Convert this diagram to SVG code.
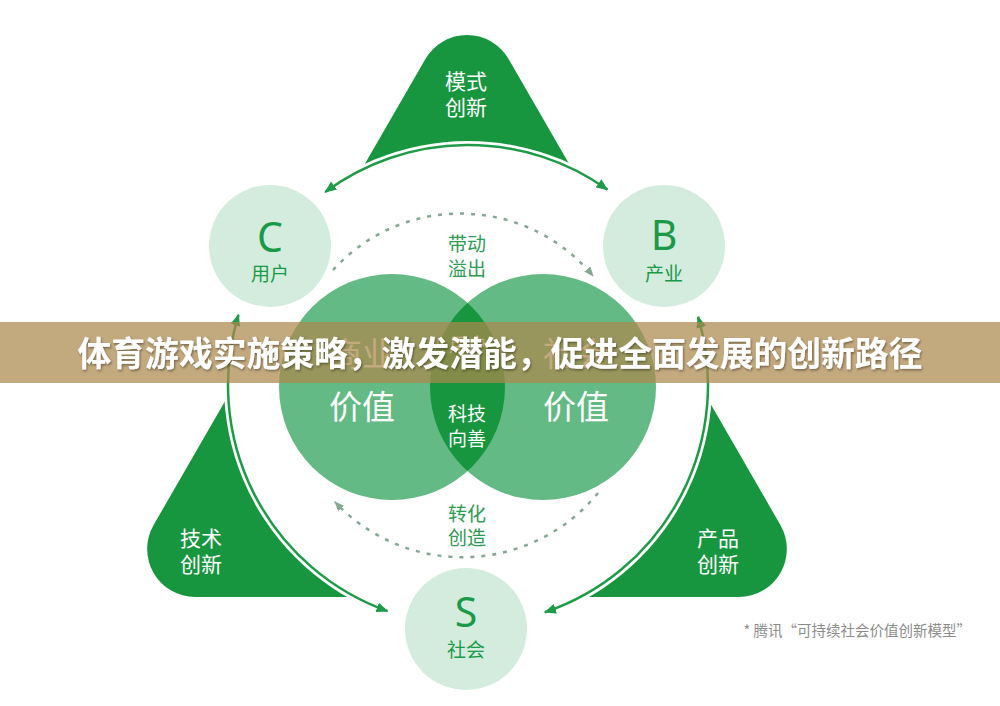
<svg xmlns="http://www.w3.org/2000/svg" width="1000" height="706" viewBox="0 0 1000 706">
<defs>
<style>
.cjk{font-family:'Noto Sans CJK SC','Noto Sans',sans-serif;}
.tri{fill:#17963f;}
.tt{fill:#fff;font-size:21px;text-anchor:middle;}
.small{fill:#d3ecdd;}
.letter{font-family:'Noto Sans','Liberation Sans',sans-serif;font-size:41px;fill:#1a9a48;text-anchor:middle;}
.sub{fill:#1a9a48;font-size:19px;text-anchor:middle;}
.ring{fill:none;stroke:#1f9a48;stroke-width:2.5;marker-start:url(#ah);marker-end:url(#ah);}
.dot{fill:none;stroke:#86a893;stroke-width:2.5;stroke-dasharray:4 7;marker-end:url(#dh);}
.big{fill:#64ba84;}
.lens{fill:#17963f;}
.vt{fill:#fff;font-size:33px;text-anchor:middle;}
.lt{fill:#fff;font-size:19px;text-anchor:middle;}
.dl{fill:#2e9b52;font-size:19px;text-anchor:middle;}
</style>
<marker id="ah" viewBox="0 0 12 10" refX="11" refY="5" markerWidth="12" markerHeight="10" markerUnits="userSpaceOnUse" orient="auto-start-reverse"><path d="M0,0 L12,5 L0,10 z" fill="#1f9a48"/></marker>
<marker id="dh" viewBox="0 0 10 8" refX="9" refY="4" markerWidth="10" markerHeight="8" markerUnits="userSpaceOnUse" orient="auto"><path d="M0,0 L10,4 L0,8 z" fill="#86a893"/></marker>
<clipPath id="leftClip"><circle cx="392" cy="387" r="113"/></clipPath>
<filter id="sh" x="-5%" y="-30%" width="110%" height="160%"><feDropShadow dx="1" dy="1.5" stdDeviation="1.2" flood-color="#000" flood-opacity="0.4"/></filter>
</defs>
<rect width="1000" height="706" fill="#fff"/>
<g id="tri-top"><path class="tri" d="M332.5,220 L425.4,59 A48,48 0 0 1 508.6,59 L601.5,220 Z"/></g>
<g id="tri-right"><path class="tri" d="M657,311 L780.4,525 A48,48 0 0 1 738.9,597 L540,597 Z"/></g>
<g id="tri-left"><path class="tri" d="M277,311 L153.6,525 A48,48 0 0 0 195.1,597 L394,597 Z"/></g>
<circle cx="468" cy="385" r="244" fill="#fff"/>
<g class="cjk">
<text class="tt" x="466" y="89">模式</text><text class="tt" x="466" y="115">创新</text>
<text class="tt" x="201" y="546">技术</text><text class="tt" x="201" y="572">创新</text>
<text class="tt" x="718" y="546">产品</text><text class="tt" x="718" y="572">创新</text>
</g>
<g id="connectors">
<path class="ring" d="M325.2,192.1 A240,240 0 0 1 607.4,189.6"/>
<path class="ring" d="M238.5,314.8 A240,240 0 0 0 387.5,611.1"/>
<path class="ring" d="M698.1,316.8 A240,240 0 0 1 544.9,612.3"/>
<path class="dot" d="M333,270 A172,172 0 0 1 593,276"/>
<path class="dot" d="M598,493 A175,175 0 0 1 335,502"/>
</g>
<g id="node-C"><circle class="small" cx="270" cy="246" r="61"/><text class="letter" x="270" y="252">C</text><text class="sub cjk" x="270" y="281">用户</text></g>
<g id="node-B"><circle class="small" cx="664" cy="246" r="61"/><text class="letter" x="664" y="250">B</text><text class="sub cjk" x="664" y="281">产业</text></g>
<g id="node-S"><circle class="small" cx="466" cy="629" r="61"/><text class="letter" x="466" y="627">S</text><text class="sub cjk" x="466" y="657">社会</text></g>
<g id="value-left"><circle class="big" cx="392" cy="387" r="113"/></g>
<g id="value-right"><circle class="big" cx="543" cy="387" r="113"/></g>
<g id="lens"><circle class="lens" cx="543" cy="387" r="113" clip-path="url(#leftClip)"/></g>
<g class="cjk">
<text class="vt" x="362" y="366">商业</text><text class="vt" x="362" y="419">价值</text>
<text class="vt" x="576" y="366">社会</text><text class="vt" x="576" y="419">价值</text>
<text class="lt" x="468" y="352">用户</text>
<text class="lt" x="467" y="421">科技</text><text class="lt" x="467" y="446">向善</text>
<text class="dl" x="467" y="251">带动</text><text class="dl" x="467" y="276">溢出</text>
<text class="dl" x="467" y="521">转化</text><text class="dl" x="467" y="545">创造</text>
</g>
<g id="banner">
<rect x="0" y="322" width="1000" height="61" fill="rgb(172,136,76)" fill-opacity="0.72"/>
<text class="cjk" x="500" y="366" font-size="33.8" font-weight="bold" fill="#fff" text-anchor="middle" filter="url(#sh)">体育游戏实施策略，激发潜能，促进全面发展的创新路径</text>
</g>
<g id="caption"><text class="cjk" x="971" y="636" font-size="14.5" fill="#8c8c8c" text-anchor="end">* 腾讯“可持续社会价值创新模型”</text></g>
</svg>
